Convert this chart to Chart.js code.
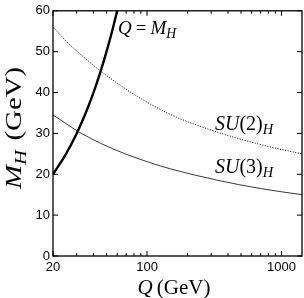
<!DOCTYPE html>
<html>
<head>
<meta charset="utf-8">
<script src="https://cdn.jsdelivr.net/npm/chart.js@4.4.1/dist/chart.umd.min.js"></script>
<style>
  html, body { margin: 0; padding: 0; background: #fff; }
</style>
</head>
<body>
<canvas id="plot" width="304" height="298"></canvas>
<script>
// values
const qLineQ = [20, 25, 30, 35, 40, 45, 50, 55, 60];
const qLineM = [20, 25, 30, 35, 40, 45, 50, 55, 60];

const su2Q = [20, 25, 34, 45, 60, 85, 150, 250, 470, 800, 1420];
const su2M = [56.1, 52.6, 48.6, 45.3, 42.3, 39.0, 34.6, 31.7, 28.8, 26.8, 25.0];

const su3Q = [20, 25, 31.4, 45, 70, 111, 150, 327, 700, 1420];
const su3M = [34.5, 32.4, 30.3, 27.6, 24.9, 22.6, 21.3, 18.6, 16.5, 15.0];

const xTicks = [20, 100, 1000];
const xMinor = [30, 40, 50, 60, 70, 80, 90, 200, 300, 400, 500, 600, 700, 800, 900];
const yTicks = [0, 10, 20, 30, 40, 50, 60];

const serif = '"Liberation Serif", "Times New Roman", serif';
const sans = '"Liberation Sans", Arial, sans-serif';

const pts = (xs, ys) => xs.map((v, i) => ({ x: v, y: ys[i] }));

// draw a piece of math text made of runs (italic / upright / subscript)
const drawRuns = (ctx, runs, x, y, size, align) => {
    let w = 0;
    runs.forEach(r => {
        const s = r.sub ? size * 0.72 : size;
        r.font = (r.it ? 'italic ' : '') + s + 'px ' + serif;
        ctx.font = r.font;
        r.w = ctx.measureText(r.t).width;
        w += r.w + (r.gap || 0);
    });
    let cx = align === 'center' ? x - w / 2 : x;
    runs.forEach(r => {
        ctx.font = r.font;
        ctx.fillText(r.t, cx, y + (r.sub ? size * 0.22 : 0));
        cx += r.w + (r.gap || 0);
    });
};

const frame = {
    id: 'frame',
    afterDraw(chart) {
        const { ctx, chartArea: a, scales: { x, y } } = chart;
        ctx.save();
        ctx.strokeStyle = '#000';
        ctx.lineWidth = 1.3;
        ctx.strokeRect(a.left, a.top, a.right - a.left, a.bottom - a.top);

        // ticks point inwards on all four sides
        ctx.lineWidth = 1;
        ctx.beginPath();
        const xt = (v, len) => {
            const p = x.getPixelForValue(v);
            ctx.moveTo(p, a.bottom); ctx.lineTo(p, a.bottom - len);
            ctx.moveTo(p, a.top); ctx.lineTo(p, a.top + len);
        };
        xTicks.forEach(v => xt(v, 5));
        xMinor.forEach(v => xt(v, 3));
        yTicks.forEach(v => {
            const p = y.getPixelForValue(v);
            ctx.moveTo(a.left, p); ctx.lineTo(a.left + 5, p);
            ctx.moveTo(a.right, p); ctx.lineTo(a.right - 5, p);
        });
        ctx.stroke();

        ctx.fillStyle = '#000';
        ctx.textBaseline = 'alphabetic';
        ctx.textAlign = 'left';

        // curve labels
        drawRuns(ctx, [{ t: 'Q', it: true, gap: 4 }, { t: '=', gap: 4 }, { t: 'M', it: true }, { t: 'H', it: true, sub: true }], 118, 34, 19);
        drawRuns(ctx, [{ t: 'SU', it: true }, { t: '(2)' }, { t: 'H', it: true, sub: true }], 215, 130, 20);
        drawRuns(ctx, [{ t: 'SU', it: true }, { t: '(3)' }, { t: 'H', it: true, sub: true }], 215, 173, 20);

        // axis titles
        drawRuns(ctx, [{ t: 'Q', it: true, gap: 4 }, { t: '(GeV)' }], 174, 294, 21, 'center');

        ctx.translate(21, 128);
        ctx.rotate(-Math.PI / 2);
        ctx.scale(1.2, 1);
        drawRuns(ctx, [{ t: 'M', it: true }, { t: 'H', it: true, sub: true, gap: 8 }, { t: '(GeV)' }], 0, 0, 24, 'center');
        ctx.restore();
    }
};

const chart = new Chart(document.getElementById('plot'), {
    type: 'line',
    data: {
        datasets: [
            { data: pts(su3Q, su3M), borderColor: '#222', borderWidth: 0.9 },
            { data: pts(su2Q, su2M), borderColor: '#000', borderWidth: 1, borderDash: [1, 1.6] },
            { data: pts(qLineQ, qLineM), borderColor: '#000', borderWidth: 2.4 }
        ]
    },
    options: {
        responsive: false,
        devicePixelRatio: 1,
        animation: false,
        layout: { padding: { top: 8, right: 2, left: 0, bottom: 0 } },
        elements: {
            point: { radius: 0 },
            line: { cubicInterpolationMode: 'monotone', fill: false }
        },
        plugins: { legend: { display: false }, tooltip: { enabled: false } },
        scales: {
            x: {
                type: 'logarithmic',
                min: 20,
                max: 1420,
                afterBuildTicks: s => { s.ticks = xTicks.map(v => ({ value: v })); },
                afterFit: s => { s.height = 42; },
                grid: { display: false, drawTicks: false },
                border: { display: false },
                ticks: {
                    callback: v => String(v),
                    autoSkip: false,
                    maxRotation: 0,
                    padding: 4,
                    color: '#000',
                    font: { family: sans, size: 13 }
                }
            },
            y: {
                min: 0,
                max: 60,
                afterBuildTicks: s => { s.ticks = yTicks.map(v => ({ value: v })); },
                afterFit: s => { s.width = 53; },
                grid: { display: false, drawTicks: false },
                border: { display: false },
                ticks: {
                    padding: 3,
                    color: '#000',
                    font: { family: sans, size: 13 }
                }
            }
        }
    },
    plugins: [frame]
});
</script>
</body>
</html>
